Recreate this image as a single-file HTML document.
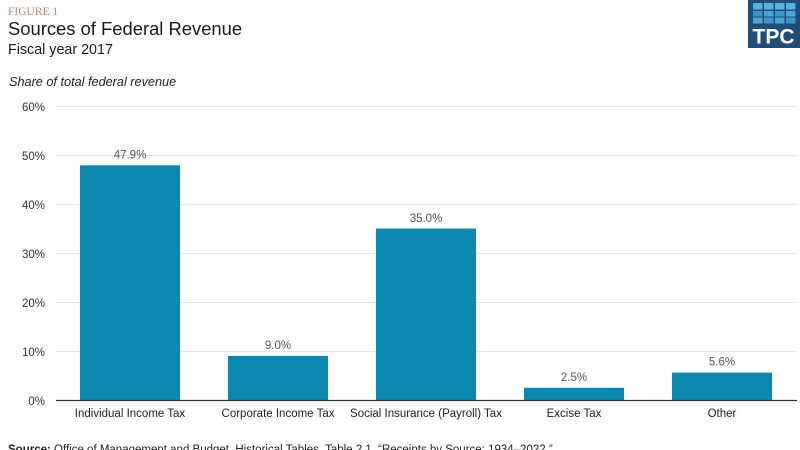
<!DOCTYPE html>
<html>
<head>
<meta charset="utf-8">
<style>
  html,body{margin:0;padding:0;background:#fff;}
  body{width:800px;height:450px;overflow:hidden;position:relative;font-family:"Liberation Sans",sans-serif;}
  svg{position:absolute;left:0;top:0;}
</style>
</head>
<body>
<svg width="800" height="450" viewBox="0 0 800 450" xmlns="http://www.w3.org/2000/svg">
  <rect width="800" height="450" fill="#ffffff"/>
  <!-- Header -->
  <text x="8" y="15" font-family="Liberation Serif, serif" font-size="11.5" fill="#b98471">FIGURE 1</text>
  <text x="8" y="35" font-family="Liberation Sans, sans-serif" font-size="18.4" fill="#1a1a1a">Sources of Federal Revenue</text>
  <text x="8" y="54" font-family="Liberation Sans, sans-serif" font-size="14.3" fill="#1a1a1a">Fiscal year 2017</text>
  <text x="9" y="86" font-family="Liberation Sans, sans-serif" font-style="italic" font-size="12.7" fill="#222">Share of total federal revenue</text>

  <!-- Logo -->
  <rect x="748" y="0" width="52" height="48" fill="#1f4d7a"/>
  <g>
    <rect x="753" y="3" width="9.5" height="6.5" fill="#5ab3e0"/>
    <rect x="764" y="3" width="9.5" height="6.5" fill="#5ab3e0"/>
    <rect x="775" y="3" width="9.5" height="6.5" fill="#5ab3e0"/>
    <rect x="786" y="3" width="9.5" height="6.5" fill="#5ab3e0"/>
    <rect x="753" y="11" width="9.5" height="5.5" fill="#3f95c6"/>
    <rect x="764" y="11" width="9.5" height="5.5" fill="#4aa6d6"/>
    <rect x="775" y="11" width="9.5" height="5.5" fill="#3f95c6"/>
    <rect x="786" y="11" width="9.5" height="5.5" fill="#4aa6d6"/>
    <rect x="753" y="17.5" width="9.5" height="6" fill="#4aa6d6"/>
    <rect x="764" y="17.5" width="9.5" height="6" fill="#3f95c6"/>
    <rect x="775" y="17.5" width="9.5" height="6" fill="#4aa6d6"/>
    <rect x="786" y="17.5" width="9.5" height="6" fill="#3f95c6"/>
  </g>
  <text x="773.5" y="43.5" text-anchor="middle" font-family="Liberation Sans, sans-serif" font-weight="bold" font-size="21" fill="#ffffff">TPC</text>

  <!-- Gridlines -->
  <g stroke="#e4e4e4" stroke-width="1">
    <line x1="56" y1="106.5" x2="797" y2="106.5"/>
    <line x1="56" y1="155.5" x2="797" y2="155.5"/>
    <line x1="56" y1="204.5" x2="797" y2="204.5"/>
    <line x1="56" y1="253.5" x2="797" y2="253.5"/>
    <line x1="56" y1="302.5" x2="797" y2="302.5"/>
    <line x1="56" y1="351.5" x2="797" y2="351.5"/>
  </g>

  <!-- Y labels -->
  <g font-family="Liberation Sans, sans-serif" font-size="11.5" fill="#333" text-anchor="end">
    <text x="45" y="111">60%</text>
    <text x="45" y="160">50%</text>
    <text x="45" y="209">40%</text>
    <text x="45" y="258">30%</text>
    <text x="45" y="307">20%</text>
    <text x="45" y="356">10%</text>
    <text x="45" y="405">0%</text>
  </g>

  <!-- Bars -->
  <g fill="#0b87b0">
    <rect x="80" y="165.3" width="100" height="234.7"/>
    <rect x="228" y="355.9" width="100" height="44.1"/>
    <rect x="376" y="228.5" width="100" height="171.5"/>
    <rect x="524" y="387.75" width="100" height="12.25"/>
    <rect x="672" y="372.6" width="100" height="27.4"/>
  </g>

  <!-- Axis -->
  <line x1="56" y1="400.5" x2="797" y2="400.5" stroke="#333" stroke-width="1.2"/>

  <!-- Value labels -->
  <g font-family="Liberation Sans, sans-serif" font-size="11.5" fill="#555" text-anchor="middle">
    <text x="130" y="158.5">47.9%</text>
    <text x="278" y="349">9.0%</text>
    <text x="426" y="222">35.0%</text>
    <text x="574" y="381">2.5%</text>
    <text x="722" y="365.5">5.6%</text>
  </g>

  <!-- Category labels -->
  <g font-family="Liberation Sans, sans-serif" font-size="11.5" fill="#222" text-anchor="middle">
    <text x="130" y="417">Individual Income Tax</text>
    <text x="278" y="417">Corporate Income Tax</text>
    <text x="426" y="417">Social Insurance (Payroll) Tax</text>
    <text x="574" y="417">Excise Tax</text>
    <text x="722" y="417">Other</text>
  </g>

  <!-- Source -->
  <text x="8" y="453" font-family="Liberation Sans, sans-serif" font-size="11.5" fill="#222"><tspan font-weight="bold">Source:</tspan> Office of Management and Budget, Historical Tables, Table 2.1, “Receipts by Source: 1934–2022.”</text>
</svg>
</body>
</html>
